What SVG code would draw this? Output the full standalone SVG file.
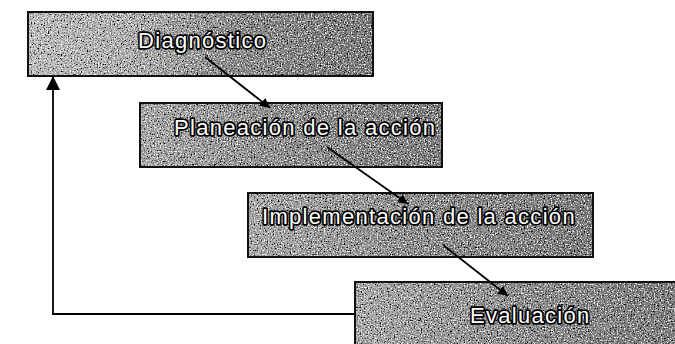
<svg xmlns="http://www.w3.org/2000/svg" width="675" height="344" viewBox="0 0 675 344">
<style>
.lbl{font-family:"Liberation Sans",Arial,sans-serif;font-size:22px;fill:#fff;stroke:#000;stroke-width:3.4;paint-order:stroke;stroke-linejoin:round;letter-spacing:1.3px}
.con{stroke:#000;stroke-width:1.8;fill:none}
.edge{fill:none;stroke:#111;stroke-width:2}
</style>
<defs>
<linearGradient id="g1" x1="0" y1="0" x2="1" y2="0">
<stop offset="0" stop-color="#c2c2c2"/><stop offset="0.3" stop-color="#b4b4b4"/><stop offset="0.6" stop-color="#8c8c8c"/><stop offset="1" stop-color="#7c7c7c"/>
</linearGradient>
<linearGradient id="g2" x1="0" y1="0" x2="1" y2="0">
<stop offset="0" stop-color="#adadad"/><stop offset="0.5" stop-color="#909090"/><stop offset="1" stop-color="#7e7e7e"/>
</linearGradient>
<filter id="grain" x="0" y="0" width="100%" height="100%">
<feTurbulence type="fractalNoise" baseFrequency="0.7" numOctaves="2" seed="4" result="n"/>
<feColorMatrix in="n" type="matrix" values="0 0 0 0 0  0 0 0 0 0  0 0 0 0 0  0 0 0 -4 2" result="dark"/>
<feColorMatrix in="n" type="matrix" values="0 0 0 0 1  0 0 0 0 1  0 0 0 0 1  0 0 0 4 -2.2" result="light"/>
<feComposite in="dark" in2="SourceGraphic" operator="atop" result="a"/>
<feComposite in="light" in2="a" operator="atop"/>
</filter>
<marker id="ah" viewBox="0 0 10 10" refX="10" refY="5" markerWidth="10" markerHeight="10" markerUnits="userSpaceOnUse" orient="auto">
<path d="M0,0 L10,5 L0,10 z" fill="#000"/>
</marker>
<marker id="ahBig" viewBox="0 0 10 10" refX="10" refY="5" markerWidth="14" markerHeight="16" markerUnits="userSpaceOnUse" orient="auto">
<path d="M0,0 L10,5 L0,10 z" fill="#000"/>
</marker>
</defs>

<g id="node-diagnostico">
<rect x="28" y="12" width="345" height="64" fill="url(#g1)" filter="url(#grain)"/>
<rect class="edge" x="28" y="12" width="345" height="64"/>
<text class="lbl" x="138" y="48">Diagnóstico</text>
</g>

<g id="node-planeacion">
<rect x="140" y="103" width="302" height="64" fill="url(#g2)" filter="url(#grain)"/>
<rect class="edge" x="140" y="103" width="302" height="64"/>
<text class="lbl" x="174" y="135">Planeación de la acción</text>
</g>

<g id="node-implementacion">
<rect x="248" y="193" width="345" height="64" fill="url(#g2)" filter="url(#grain)"/>
<rect class="edge" x="248" y="193" width="345" height="64"/>
<text class="lbl" x="262" y="224">Implementación de la acción</text>
</g>

<g id="node-evaluacion">
<rect x="355" y="282" width="322" height="64" fill="url(#g2)" filter="url(#grain)"/>
<rect class="edge" x="355" y="282" width="322" height="64"/>
<text class="lbl" x="470" y="323">Evaluación</text>
</g>

<g id="connectors">
<line class="con" x1="205" y1="57" x2="270" y2="108" marker-end="url(#ah)"/>
<line class="con" x1="327" y1="147" x2="408" y2="204" marker-end="url(#ah)"/>
<line class="con" x1="443" y1="245" x2="508" y2="296" marker-end="url(#ah)"/>
<polyline class="con" points="355,314 53,314 53,76" stroke-width="2" marker-end="url(#ahBig)"/>
</g>
</svg>
